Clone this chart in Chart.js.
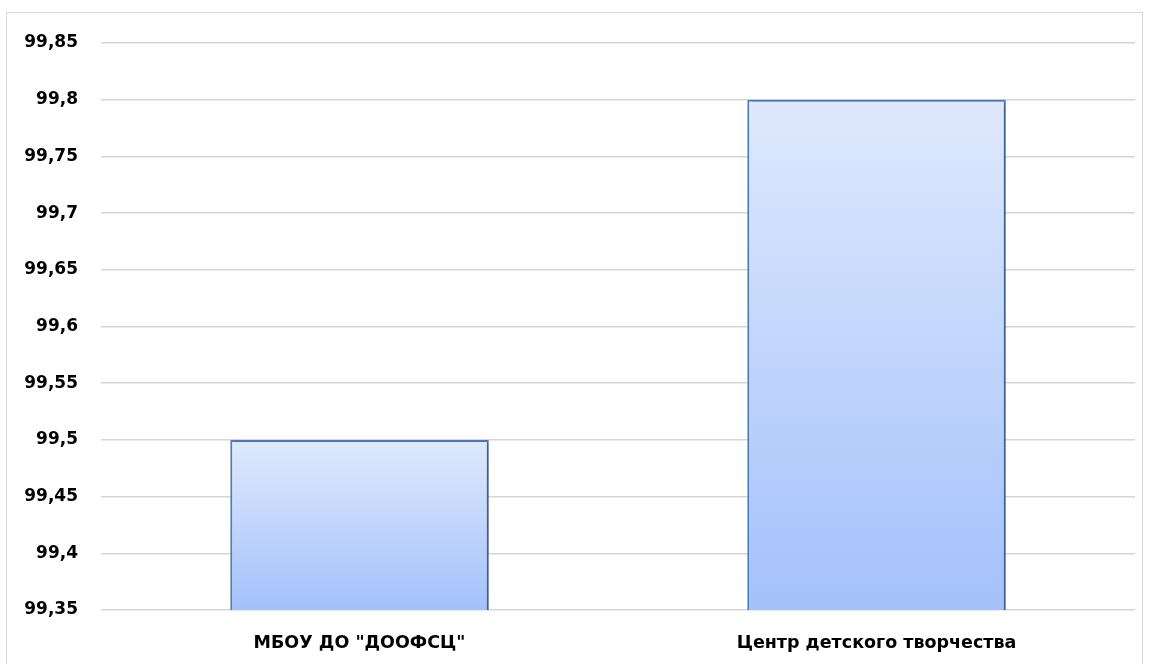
<!DOCTYPE html>
<html>
<head>
    <title>Chart</title>
    <script src="https://cdn.jsdelivr.net/npm/chart.js"></script>
    <style>
        body {
            margin: 0;
            background: #fff;
        }
        #frame {
            position: absolute;
            left: 6px;
            top: 12px;
            width: 1135px;
            height: 700px;
            border: 1.5px solid #d9d9d9;
        }
        #wrap {
            position: absolute;
            left: 0;
            top: 0;
            width: 1150px;
            height: 664px;
        }
    </style>
</head>
<body>
    <div id="frame"></div>
    <div id="wrap"><canvas id="barChart"></canvas></div>

    <script>
        const categories = ['МБОУ ДО "ДООФСЦ"', 'Центр детского творчества'];
        const values = [99.5, 99.8];
        const yMin = 99.35;
        const yMax = 99.85;
        const yStep = 0.05;

        const ctx = document.getElementById('barChart').getContext('2d');

        // gradient for each bar, light on top and darker blue at the base
        function barGradient(context) {
            const chart = context.chart;
            const area = chart.chartArea;
            if (!area || !chart.scales.y) return '#c4d7fd';
            const top = chart.scales.y.getPixelForValue(context.raw);
            const g = chart.ctx.createLinearGradient(0, top, 0, area.bottom);
            g.addColorStop(0, '#dfe9fd');
            g.addColorStop(1, '#a3c1fb');
            return g;
        }

        const shadowPlugin = {
            id: 'barShadow',
            beforeDatasetsDraw(chart) {
                const c = chart.ctx;
                c.save();
                c.shadowColor = 'rgba(0,0,0,0.3)';
                c.shadowBlur = 5;
                c.shadowOffsetX = 3;
                c.shadowOffsetY = 1;
            },
            afterDatasetsDraw(chart) {
                chart.ctx.restore();
            }
        };

        new Chart(ctx, {
            type: 'bar',
            data: {
                labels: categories,
                datasets: [{
                    data: values,
                    backgroundColor: barGradient,
                    borderColor: '#4f7fbf',
                    borderWidth: 2,
                    borderSkipped: 'bottom',
                    categoryPercentage: 1,
                    barPercentage: 0.5
                }]
            },
            options: {
                responsive: true,
                maintainAspectRatio: false,
                animation: false,
                layout: { padding: { left: 0, right: 15, top: 43, bottom: 0 } },
                plugins: {
                    legend: { display: false },
                    tooltip: { enabled: false }
                },
                scales: {
                    y: {
                        min: yMin,
                        max: yMax,
                        border: { display: false },
                        grid: { color: '#d6d6d6', lineWidth: 1.5, drawTicks: false },
                        ticks: {
                            stepSize: yStep,
                            padding: 23,
                            color: '#000',
                            font: { family: 'DejaVu Sans', size: 17, weight: 'bold' },
                            callback: v => Number(v.toFixed(2)).toString().replace('.', ',')
                        },
                        afterFit(scale) { scale.width = 101; }
                    },
                    x: {
                        border: { display: false },
                        grid: { display: false },
                        ticks: {
                            padding: 15,
                            color: '#000',
                            font: { family: 'DejaVu Sans', size: 17.5, weight: 'bold' }
                        },
                        afterFit(scale) { scale.height = 54; }
                    }
                }
            },
            plugins: [shadowPlugin]
        });
    </script>
</body>
</html>
